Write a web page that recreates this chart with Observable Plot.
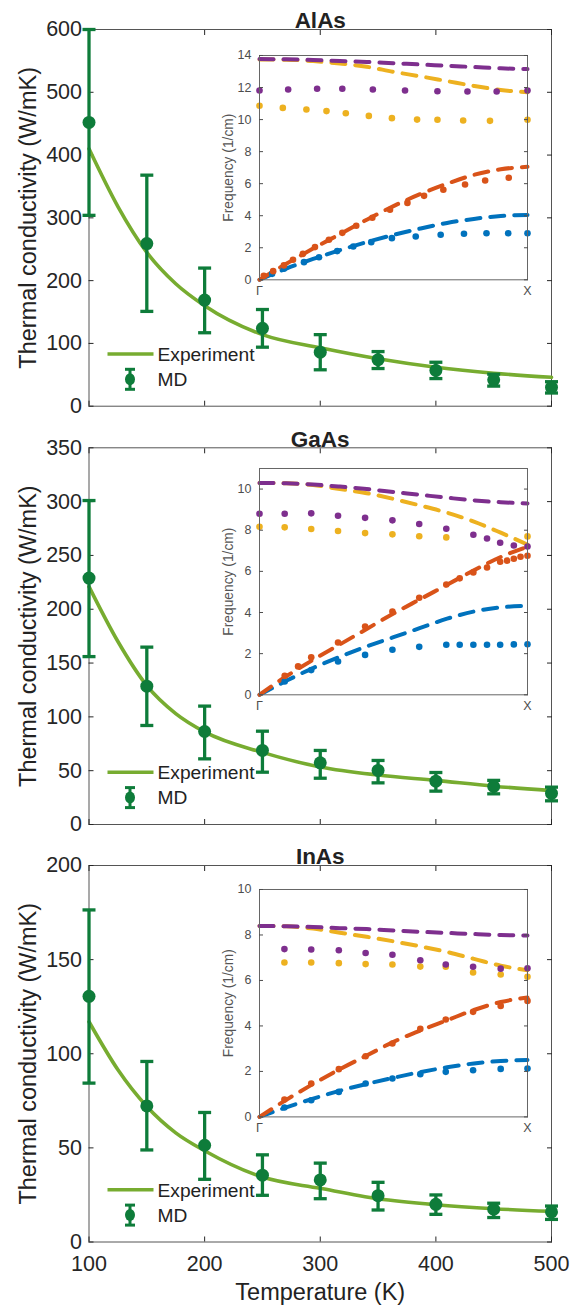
<!DOCTYPE html>
<html><head><meta charset="utf-8">
<script src="https://cdn.jsdelivr.net/npm/d3@7"></script>
<script src="https://cdn.jsdelivr.net/npm/@observablehq/plot@0.6"></script>
<style>
body{margin:0;background:#fff;}
#root{position:relative;width:571px;height:1310px;overflow:hidden;font-family:"Liberation Sans",Arial,Helvetica,sans-serif;}
#root svg{position:absolute;}
</style></head><body><div id="root"></div>
<script>
// ---------- main panels: thermal conductivity vs temperature ----------
const temps = [100,150,200,250,300,350,400,450,500];
const xTicks = [100,200,300,400,500];
const expT = [100,125,150,175,200,250,300,350,400,450,500];

const alasExp = [410,318,245,195,160,114,93,75.5,62,52.5,46];
const alasMD  = [452,259,169,124,86,74,57,42,30];
const alasLo  = [304,151,117,94,58,60,44,32,21];
const alasHi  = [600,368,220,154,114,87,70,51,39];

const gaasExp = [221,170,129,103,86,67,53.5,46,41,35.6,31.5];
const gaasMD  = [229,128.5,86.4,68.8,57.3,50.2,40.3,35.3,29];
const gaasLo  = [156,92,61,48.6,43,38.7,31,28.5,22];
const gaasHi  = [301,164.8,110,86.7,68.8,59.5,48.3,41,34.7];

const inasExp = [117,91.5,72,58,48.5,34.5,28.5,23,19.8,17.7,16.3];
const inasMD  = [130.5,72.3,51.4,35.5,33,24.6,20,17.4,16];
const inasLo  = [84.4,48.9,33.3,24.8,23,17,14.7,13,12];
const inasHi  = [176.4,95.9,68.8,46.3,41.9,31.7,25,20.6,19.1];

const titles = ["AlAs","GaAs","InAs"];
const yMaxes = [600,350,200];
const ySteps = [100,50,50];

// ---------- insets: phonon dispersion Γ -> X ----------
const kGrid = [0,0.1,0.2,0.3,0.4,0.5,0.6,0.7,0.8,0.9,1];
const kLabels = ["Γ","X"];

// AlAs
const alasDashTA = [0,0.7,1.3,1.85,2.35,2.8,3.2,3.55,3.8,3.98,4.05];
const alasDashLA = [0,1.0,1.95,2.85,3.75,4.6,5.35,6.0,6.55,6.9,7.05];
const alasDashTO = [13.75,13.74,13.65,13.5,13.3,12.98,12.7,12.4,12.1,11.85,11.7];
const alasDashLO = [13.78,13.76,13.72,13.66,13.6,13.52,13.44,13.36,13.28,13.2,13.15];
const alasTAk = [0.047,0.091,0.166,0.222,0.29,0.35,0.417,0.494,0.583,0.676,0.763,0.847,0.928,1];
const alasTAv = [0.37,0.69,1.1,1.41,1.79,2.08,2.35,2.6,2.7,2.81,2.87,2.91,2.91,2.91];
const alasLAk = [0.016,0.051,0.091,0.125,0.162,0.207,0.259,0.309,0.361,0.421,0.487,0.552,0.614,0.686,0.767,0.842,0.93];
const alasLAv = [0.25,0.54,0.9,1.25,1.62,2.04,2.5,2.93,3.37,3.87,4.37,4.8,5.24,5.62,5.95,6.2,6.37];
const alasTOk = [0,0.087,0.175,0.25,0.322,0.408,0.494,0.588,0.664,0.76,0.86,1];
const alasTOv = [10.86,10.73,10.63,10.53,10.4,10.23,10.09,10.0,9.99,9.94,9.92,9.99];
const alasLOk = [0,0.107,0.215,0.309,0.423,0.543,0.664,0.776,0.885,1];
const alasLOv = [11.82,11.88,11.92,11.92,11.88,11.82,11.77,11.75,11.75,11.82];

// GaAs
const gaasDashTA = [0,0.68,1.3,1.85,2.35,2.8,3.25,3.7,4.05,4.25,4.33];
const gaasDashLA = [0,0.9,1.7,2.45,3.2,3.95,4.65,5.35,6.05,6.7,7.2];
const gaasDashTO = [10.3,10.28,10.2,10.0,9.8,9.52,9.2,8.85,8.42,7.88,7.3];
const gaasDashLO = [10.3,10.28,10.22,10.12,10.0,9.86,9.72,9.58,9.45,9.36,9.3];
const gaasTAk = [0.094,0.193,0.293,0.394,0.496,0.596,0.697,0.747,0.798,0.849,0.898,0.949,1];
const gaasTAv = [0.65,1.2,1.62,1.94,2.19,2.33,2.43,2.43,2.43,2.43,2.43,2.45,2.46];
const gaasLAk = [0.094,0.144,0.193,0.293,0.394,0.496,0.596,0.697,0.747,0.798,0.849,0.898,0.924,0.949,0.974,1];
const gaasLAv = [0.92,1.38,1.82,2.54,3.32,4.05,4.72,5.36,5.66,5.95,6.19,6.47,6.52,6.61,6.71,6.76];
const gaasTOk = [0,0.094,0.193,0.293,0.394,0.496,0.596,0.697,1];
const gaasTOv = [8.17,8.14,8.06,7.96,7.86,7.8,7.71,7.65,7.7];
const gaasLOk = [0,0.094,0.193,0.293,0.394,0.496,0.596,0.697,0.798,0.849,0.898,0.949,1];
const gaasLOv = [8.8,8.8,8.82,8.7,8.6,8.48,8.3,8.07,7.78,7.6,7.39,7.26,7.21];

// InAs
const inasDashTA = [0,0.42,0.8,1.15,1.45,1.72,1.97,2.18,2.35,2.46,2.5];
const inasDashLA = [0,0.75,1.45,2.1,2.7,3.3,3.8,4.25,4.7,5.05,5.25];
const inasDashTO = [8.4,8.38,8.28,8.1,7.92,7.72,7.5,7.25,6.95,6.65,6.45];
const inasDashLO = [8.4,8.38,8.35,8.3,8.26,8.2,8.14,8.09,8.04,8.0,7.98];
const inasK   = [0.093,0.193,0.296,0.396,0.496,0.6,0.695,0.797,0.9,1];
const inasTAv = [0.41,0.73,1.1,1.47,1.69,1.88,1.98,2.05,2.11,2.13];
const inasLAv = [0.76,1.47,2.1,2.67,3.23,3.87,4.28,4.62,4.88,5.1];
const inasTOv = [6.79,6.79,6.76,6.72,6.7,6.61,6.6,6.35,6.26,6.16];
const inasLOv = [7.38,7.36,7.33,7.21,7.13,6.89,6.7,6.6,6.52,6.54];

const insetYMax = [14,11,10];

// ---------- styles ----------
const C = {md:"#0e7c3a", exp:"#77AC30", TA:"#0072BD", LA:"#D95319", TO:"#EDB120", LO:"#7E2F8E"};
const FONT = '"Liberation Sans",Arial,Helvetica,sans-serif';
const root = document.getElementById("root");

const capSymbol = {draw(ctx, size){ const w = Math.sqrt(size/Math.PI); ctx.moveTo(-w,0); ctx.lineTo(w,0); }};

const mainGeo = [
  {top:0,   height:418, mt:29,   mb:12.3},
  {top:418, height:418, mt:29.3, mb:12},
  {top:836, height:474, mt:29,   mb:68.5}
];
const mainData = [
  {exp:alasExp, md:alasMD, lo:alasLo, hi:alasHi},
  {exp:gaasExp, md:gaasMD, lo:gaasLo, hi:gaasHi},
  {exp:inasExp, md:inasMD, lo:inasLo, hi:inasHi}
];

mainData.forEach((d, p) => {
  const g = mainGeo[p];
  const last = p === 2;
  const mdRows = temps.map((t,i)=>({T:t, k:d.md[i], lo:d.lo[i], hi:d.hi[i]}));
  const expRows = expT.map((t,i)=>({T:t, k:d.exp[i]}));
  const yTicks = d3.range(0, yMaxes[p]+1, ySteps[p]);
  const marks = [
    Plot.frame({stroke:"#555", strokeWidth:1}),
    Plot.axisX({anchor:"bottom", ticks:xTicks, tickSize:-5, tickPadding:19, label:null, fontSize:21.5,
                tickFormat: last ? (v=>String(v)) : (()=>"")}),
    Plot.axisX({anchor:"top", ticks:xTicks, tickSize:-5, label:null, tickFormat:()=>""}),
    Plot.axisY({anchor:"left", ticks:yTicks, tickSize:-5, tickPadding:12, label:null, fontSize:21.5}),
    Plot.axisY({anchor:"right", ticks:yTicks, tickSize:-5, label:null, tickFormat:()=>""}),
    Plot.text(["Thermal conductivity (W/mK)"], {frameAnchor:"left", textAnchor:"middle", rotate:-90, dx:-61, fontSize:23.5, fill:"#222"}),
    Plot.text([titles[p]], {frameAnchor:"top", dy:-17, fontSize:22.5, fontWeight:"bold", fill:"#222"}),
    Plot.line(expRows, {x:"T", y:"k", stroke:C.exp, strokeWidth:3.6, curve:"monotone-x"}),
    Plot.ruleX(mdRows, {x:"T", y1:"lo", y2:"hi", stroke:C.md, strokeWidth:3.3}),
    Plot.dot(mdRows, {x:"T", y:"lo", symbol:capSymbol, r:6.5, stroke:C.md, fill:"none", strokeWidth:3.3}),
    Plot.dot(mdRows, {x:"T", y:"hi", symbol:capSymbol, r:6.5, stroke:C.md, fill:"none", strokeWidth:3.3}),
    Plot.dot(mdRows, {x:"T", y:"k", r:6.5, fill:C.md, stroke:"none"})
  ];
  if (last) marks.push(Plot.text(["Temperature (K)"], {frameAnchor:"bottom", dy:58, fontSize:23.5, fill:"#222"}));
  const svg = Plot.plot({
    width:571, height:g.height, marginLeft:88.5, marginRight:20, marginTop:g.mt, marginBottom:g.mb,
    style:{background:"transparent", fontFamily:FONT, color:"#262626", overflow:"visible"},
    x:{domain:[100,500]}, y:{domain:[0,yMaxes[p]]},
    marks
  });
  svg.style.left = "0px"; svg.style.top = g.top + "px";
  root.appendChild(svg);

  // legend
  const fl = 88.5, fb = g.height - g.mb;
  const lg = d3.select(svg).append("g").attr("font-family", FONT).attr("font-size", 19.2)
    .attr("fill", "#222").attr("text-anchor", "start");
  lg.append("line").attr("x1", fl+19).attr("x2", fl+65).attr("y1", fb-51.7).attr("y2", fb-51.7)
    .attr("stroke", C.exp).attr("stroke-width", 3.6);
  lg.append("text").attr("x", fl+69).attr("y", fb-51.7).attr("dy", "0.35em").text("Experiment");
  const my = fb-26.4, mx = fl+41.5;
  lg.append("line").attr("x1", mx).attr("x2", mx).attr("y1", my-10).attr("y2", my+10).attr("stroke", C.md).attr("stroke-width", 3);
  lg.append("line").attr("x1", mx-5).attr("x2", mx+5).attr("y1", my-10).attr("y2", my-10).attr("stroke", C.md).attr("stroke-width", 3);
  lg.append("line").attr("x1", mx-5).attr("x2", mx+5).attr("y1", my+10).attr("y2", my+10).attr("stroke", C.md).attr("stroke-width", 3);
  lg.append("ellipse").attr("cx", mx).attr("cy", my).attr("rx", 5).attr("ry", 6).attr("fill", C.md);
  lg.append("text").attr("x", fl+69).attr("y", my).attr("dy", "0.35em").text("MD");
});

// ---------- insets ----------
const insetGeo = [
  {ft:55,    fb:279.3},
  {ft:467.7, fb:694},
  {ft:889.3, fb:1116.7}
];
const insetData = [
  {dash:[alasDashTA,alasDashLA,alasDashTO,alasDashLO],
   dots:[[alasTAk,alasTAv],[alasLAk,alasLAv],[alasTOk,alasTOv],[alasLOk,alasLOv]]},
  {dash:[gaasDashTA,gaasDashLA,gaasDashTO,gaasDashLO],
   dots:[[gaasTAk,gaasTAv],[gaasLAk,gaasLAv],[gaasTOk,gaasTOv],[gaasLOk,gaasLOv]]},
  {dash:[inasDashTA,inasDashLA,inasDashTO,inasDashLO],
   dots:[[inasK,inasTAv],[inasK,inasLAv],[inasK,inasTOv],[inasK,inasLOv]]}
];
const branchColors = [C.TA, C.LA, C.TO, C.LO];

insetData.forEach((d, p) => {
  const g = insetGeo[p];
  const left = 190, fl = 259, fr = 527, mt = 10, mb = 26;
  const width = fr - left + 14;
  const height = (g.fb - g.ft) + mt + mb;
  const yTicks = d3.range(0, insetYMax[p]+0.01, 2);
  const marks = [Plot.frame({fill:"white", stroke:"none"})];
  d.dash.forEach((arr, b) => {
    marks.push(Plot.line(kGrid.map((k,i)=>({k, f:arr[i]})),
      {x:"k", y:"f", stroke:branchColors[b], strokeWidth:4, strokeDasharray:"14,10", curve:"monotone-x"}));
  });
  d.dots.forEach(([ks, vs], b) => {
    marks.push(Plot.dot(ks.map((k,i)=>({k, f:vs[i]})),
      {x:"k", y:"f", r:3.3, fill:branchColors[b], stroke:"none"}));
  });
  marks.push(
    Plot.frame({stroke:"#666", strokeWidth:1}),
    Plot.axisY({anchor:"left", ticks:yTicks, tickSize:-4, tickPadding:12, label:null, fontSize:12.5}),
    Plot.axisY({anchor:"right", ticks:yTicks, tickSize:-4, label:null, tickFormat:()=>""}),
    Plot.axisX({anchor:"bottom", ticks:[0,1], tickSize:0, tickPadding:6, label:null, fontSize:12.5,
                tickFormat:v=> v === 0 ? kLabels[0] : kLabels[1]}),
    Plot.text(["Frequency (1/cm)"], {frameAnchor:"left", textAnchor:"middle", rotate:-90, dx:-30.7, fontSize:13.8, fill:"#555"})
  );
  const svg = Plot.plot({
    width, height, marginLeft: fl-left, marginRight: 14, marginTop: mt, marginBottom: mb,
    style:{background:"transparent", fontFamily:FONT, color:"#4d4d4d", overflow:"visible"},
    x:{domain:[0,1]}, y:{domain:[0,insetYMax[p]]},
    marks
  });
  svg.style.left = left + "px"; svg.style.top = (g.ft - mt) + "px";
  root.appendChild(svg);
});
</script>
</body></html>
